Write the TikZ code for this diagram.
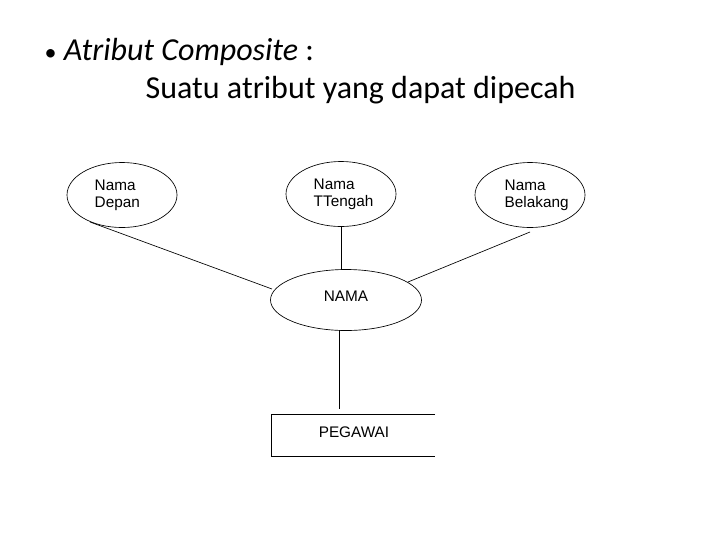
\documentclass[tikz,border=0pt]{standalone}
\usepackage{fontspec}
\setmainfont{Carlito}
\newfontfamily\arial{Liberation Sans}
\usetikzlibrary{shapes.geometric}
\begin{document}
\begin{tikzpicture}[x=0.75pt,y=-0.75pt,
  attr/.style={draw,ellipse,line width=0.5pt,minimum width=110*0.75pt,minimum height=65*0.75pt,inner sep=0pt},
  lbl/.style={font=\arial\fontsize{11.5}{13}\selectfont,align=left,anchor=west},
  conn/.style={line width=0.5pt}]
\useasboundingbox (0,0) rectangle (720,540);
\node[anchor=west,font=\fontsize{24}{26}\selectfont] (t1) at (40,52) {{\fontsize{18}{20}\selectfont•} \textit{Atribut Composite} :};
\node[anchor=west,font=\fontsize{24}{26}\selectfont] (t2) at (141,90) {Suatu atribut yang dapat dipecah};
\node[attr] (e1) at (122,195) {};
\node[lbl] at (90,195) {Nama\\Depan};
\node[attr] (e2) at (341,194) {};
\node[lbl] at (309,194) {Nama\\TTengah};
\node[attr] (e3) at (530,195) {};
\node[lbl] at (500,195) {Nama\\Belakang};
\node[attr,minimum width=151*0.75pt,minimum height=61*0.75pt] (n) at (346,300) {};
\node[font=\arial\fontsize{11.5}{13}\selectfont] at (346,296) {NAMA};
\coordinate (a1) at (90,222);
\coordinate (a2) at (272,289);
\coordinate (b1) at (530,232);
\coordinate (b2) at (408,282);
\draw[conn] (a1) -- (a2);
\draw[conn] (e2) -- (e2|-n.north);
\draw[conn] (b1) -- (b2);
\coordinate (bt) at (339,409);
\draw[conn] (339,330) -- (bt);
\draw[conn] (435,414) -- (271,414) -- (271,456) -- (435,456);
\node[font=\arial\fontsize{11.5}{13}\selectfont] (p) at (354,432) {PEGAWAI};
\end{tikzpicture}
\end{document}
